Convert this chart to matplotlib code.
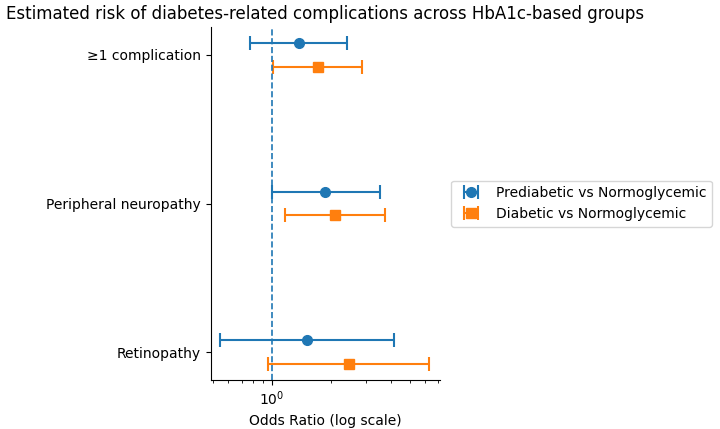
import matplotlib
matplotlib.use("Agg")
import matplotlib.pyplot as plt
import numpy as np

outcomes = ["≥1 complication", "Peripheral neuropathy", "Retinopathy"]

pre_or = [1.37, 1.86, 1.51]
pre_lo = [0.775, 0.995, 0.545]
pre_hi = [2.39, 3.52, 4.16]

dia_or = [1.71, 2.08, 2.45]
dia_lo = [1.007, 1.16, 0.957]
dia_hi = [2.87, 3.75, 6.3]

y = np.arange(len(outcomes))
off = 0.08

fig = plt.figure(figsize=(7.2, 4.29), dpi=100)
ax = fig.add_axes([0.293, 0.114, 0.318, 0.823])

pre_or, pre_lo, pre_hi = map(np.array, (pre_or, pre_lo, pre_hi))
dia_or, dia_lo, dia_hi = map(np.array, (dia_or, dia_lo, dia_hi))

ax.errorbar(pre_or, y - off, xerr=[pre_or - pre_lo, pre_hi - pre_or],
            fmt="o", color="C0", markersize=7, capsize=5, elinewidth=1.5,
            capthick=1.5, label="Prediabetic vs Normoglycemic")
ax.errorbar(dia_or, y + off, xerr=[dia_or - dia_lo, dia_hi - dia_or],
            fmt="s", color="C1", markersize=7, capsize=5, elinewidth=1.5,
            capthick=1.5, label="Diabetic vs Normoglycemic")

ax.axvline(1, color="C0", linestyle="--", linewidth=1.2)
ax.set_xscale("log")
ax.set_xlim(0.489, 7.13)
ax.set_yticks(y)
ax.set_yticklabels(outcomes, fontsize=10)
ax.invert_yaxis()
ax.set_xlabel("Odds Ratio (log scale)", fontsize=10)
ax.spines["top"].set_visible(False)
ax.spines["right"].set_visible(False)
ax.legend(loc="center left", bbox_to_anchor=(1.02, 0.5), fontsize=10)
ax.set_title("Estimated risk of diabetes-related complications across HbA1c-based groups",
             fontsize=12)

fig.savefig("out.png", dpi=100)
